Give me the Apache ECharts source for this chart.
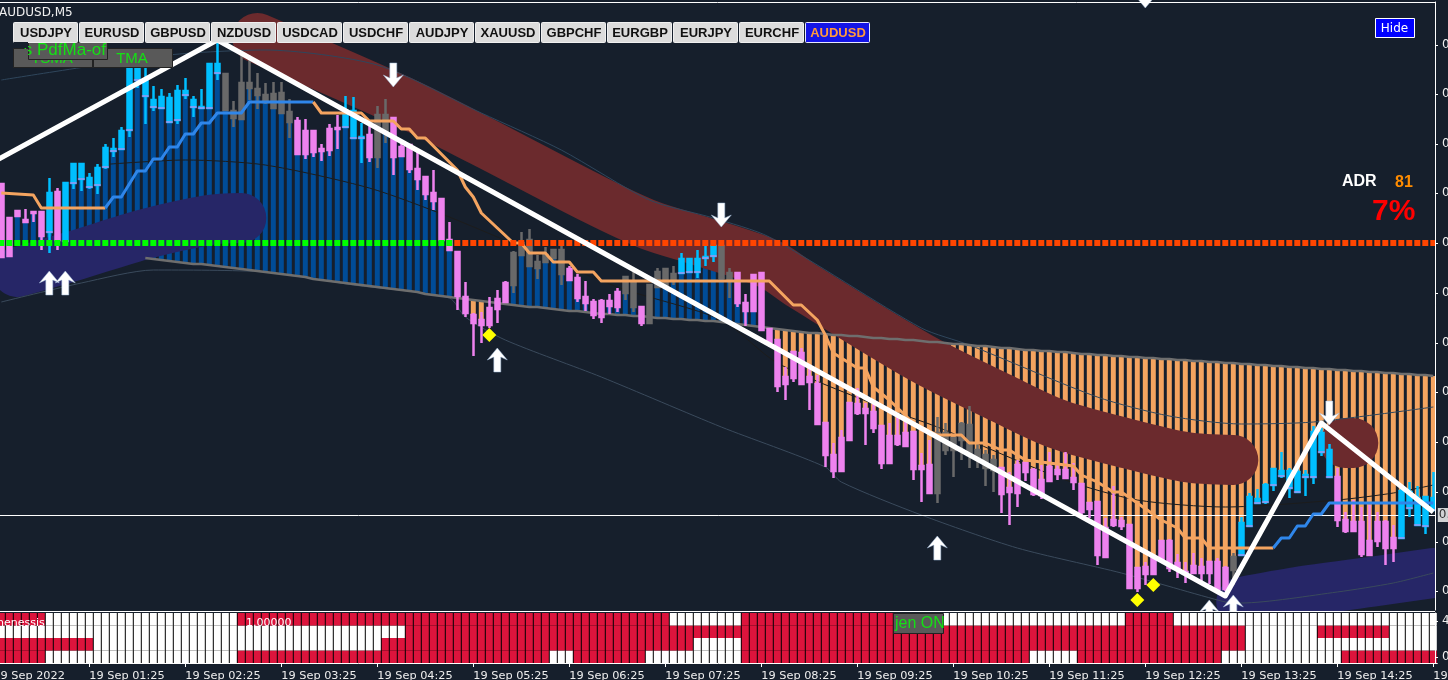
<!DOCTYPE html>
<html><head><meta charset="utf-8">
<style>html,body{margin:0;padding:0;background:#161f2c;overflow:hidden}#c{width:1448px;height:680px}</style>
<script src="https://cdn.jsdelivr.net/npm/echarts@6/dist/echarts.min.js"></script>
</head><body><div id="c"></div>
<script>
// prices are stored in points above the bottom of the visible price range (0.66630)
const bodyHigh=[426,392,399,390,398,398,417,418,427,446,
446,432,442,462,461,479,542,542,530,510,
513,512,519,519,510,503,546,546,536,499,
527,527,521,515,516,517,498,489,479,479,
461,481,482,499,499,473,475,495,495,492,
463,465,441,433,417,411,370,358,313,295,
290,302,311,327,357,367,370,348,355,360,
360,341,332,313,308,309,309,318,333,328,
303,325,338,341,336,351,351,351,353,364,
364,337,337,307,335,337,281,270,233,258,
257,233,226,187,155,172,207,206,201,198,
184,174,174,177,178,144,145,177,177,172,
186,185,160,155,150,142,122,145,147,140,
130,143,140,140,132,126,107,108,82,90,
89,85,42,43,52,69,69,47,38,44,
43,48,48,42,53,87,113,111,125,141,
139,139,138,135,178,177,160,133,90,88,
88,69,88,88,72,119,118,112,113,112];
const bodyLow=[353,354,394,388,397,374,378,370,369,427,
431,423,425,443,459,461,480,530,514,503,
502,488,490,515,503,502,502,537,500,492,
491,522,515,508,502,497,488,456,456,458,
459,460,481,483,472,472,453,453,477,453,
454,441,431,416,409,370,360,314,297,287,
285,285,301,308,325,355,344,342,348,352,
336,330,312,307,295,293,304,303,317,303,
287,287,323,325,330,337,338,338,352,354,
332,330,307,299,299,280,268,224,226,232,
226,228,186,155,139,139,170,197,197,182,
147,147,166,164,141,141,117,117,160,160,
170,155,153,142,140,116,118,117,138,116,
115,129,136,132,128,98,101,55,53,85,
84,22,22,36,36,51,42,42,37,37,
37,37,21,21,40,55,84,107,108,125,
134,122,118,133,133,158,133,90,79,79,
56,55,69,62,62,72,102,85,84,100];
const wickHigh=[426,392,399,401,398,399,432,422,427,446,
446,437,446,466,472,483,542,542,542,524,
521,517,525,532,514,521,547,567,536,509,
555,555,537,527,528,528,511,493,491,479,
466,486,495,514,513,487,485,504,511,492,
470,465,458,433,440,411,388,358,328,297,
298,313,320,329,359,378,381,355,363,361,
364,344,336,329,311,311,316,322,333,338,
303,325,342,341,344,357,351,360,364,364,
364,342,337,316,335,337,281,270,243,258,
262,243,235,187,167,180,207,222,207,207,
184,187,193,193,178,157,170,193,187,172,
188,204,168,160,155,143,138,150,148,142,
145,158,147,158,147,126,107,108,92,124,
93,85,42,48,52,69,71,56,48,57,
52,48,52,44,57,93,117,121,127,141,
158,142,142,140,184,182,166,142,98,110,
103,105,98,90,85,122,128,124,114,138];
const wickLow=[353,354,394,388,388,360,357,360,369,421,
419,421,416,441,453,460,473,522,486,499,
502,487,486,511,493,502,502,530,500,483,
491,510,501,506,502,497,472,456,451,453,
449,454,461,483,471,447,448,442,467,435,
454,437,420,410,400,370,360,300,293,254,
267,282,287,308,317,355,344,331,348,352,
325,330,308,299,291,287,296,298,310,298,
284,287,323,325,325,337,338,332,344,348,
332,312,303,284,299,280,263,218,210,228,
226,200,186,143,132,139,170,195,165,177,
141,147,164,163,130,108,117,107,155,133,
150,142,142,124,118,97,85,103,129,114,
111,129,130,132,120,95,92,45,53,83,
80,22,18,25,36,51,38,32,27,37,
27,26,21,19,25,55,83,106,106,119,
132,112,118,114,126,154,133,83,77,79,
53,54,63,45,48,72,93,84,76,100];
// candle tone runs: p pink, b blue, g grey
const toneRuns=[['p',6],['b',1],['p',1],['b',20],['g',9],['p',6],['b',3],['p',1],['g',2],['p',15],['g',7],['p',7],['g',2],['p',1],['g',4],['b',5],['g',2],['p',25],['g',8],['p',29],['g',1],['b',12],['p',8],['b',5]];
// histogram runs: n none, b blue, o orange
const histRuns=[['n',2],['b',55],['n',2],['o',2],['n',3],['b',31],['n',1],['o',84]];
const cloudLine=[368,367,366,365,364,363,362,361,360,359,
358,357,356,355,354,353,352,352,352,351,
350,349,348,347,346,346,345,344,343,342,
341,340,339,338,337,336,335,334,333,331,
330,329,328,327,326,325,324,323,322,321,
320,319,318,316,315,314,313,312,311,310,
309,308,307,306,305,304,303,303,302,301,
300,299,299,298,297,296,296,295,295,294,
294,293,292,292,291,291,290,290,289,289,
288,287,286,285,284,283,282,281,280,279,
278,277,277,276,275,275,274,274,273,272,
272,271,271,270,270,269,268,268,267,266,
266,265,264,264,263,262,262,261,260,260,
259,259,258,258,257,256,256,255,255,254,
254,253,253,252,252,251,251,250,250,249,
249,248,248,247,247,246,246,245,245,244,
244,243,243,242,242,241,241,240,240,239,
239,238,238,237,237,236,236,235,235,234];
// [category index, price points]
const brownBand=[[33,572],[51,509],[61,469],[75,411],[82,385],[88,370],[97,346],[101,325],[116,252],[126,212],[133,186],[141,168],[149,153],[155,150]];
const brownBlob=[[169,167],[170,167]];
const purpleBandA=[[3,338],[10,354],[19,376],[27,390],[31,392]];
const purpleBandB=[[156,8],[163,18],[173,29],[180,37]];
const upperThin=[[1,530],[22,555],[34,560],[48,545],[61,497],[71,460],[82,410],[90,392],[97,373],[116,282],[122,265],[138,213],[147,194],[156,186],[165,188],[180,203]];
const lowerThin=[[1,308],[11,327],[20,340],[34,338],[45,325],[57,312],[59,293],[64,270],[76,233],[91,183],[104,143],[106,128],[116,95],[128,62],[141,37],[154,8],[156,7],[168,18],[175,27],[180,37]];
const midThin=[[13,445],[24,450],[34,445],[47,422],[57,393],[78,323],[91,290],[98,247],[111,203],[118,183],[134,130],[143,110],[154,103],[168,110],[175,117],[180,125]];
const orangeStepA=[[1,417],[5,415],[6,402],[14,402]];
const blueStepA=[[14,402],[15,413],[16,413],[18,439],[19,439],[20,451],[21,451],[22,463],[23,463],[24,476],[25,476],[26,487],[27,487],[28,497],[31,497],[32,508],[40,508]];
const orangeStepB=[[40,508],[41,497],[46,497],[47,489],[50,489],[51,481],[52,481],[53,472],[54,472],[58,440],[59,423],[60,413],[61,397],[65,367],[66,367],[67,357],[69,357],[70,348],[72,348],[73,338],[75,338],[76,329],[97,329],[100,305],[101,305],[103,290],[104,275],[105,257],[108,242],[109,242],[110,223],[112,210],[115,187],[118,175],[121,175],[122,167],[124,167],[126,160],[127,160],[129,150],[135,144],[136,135],[138,128],[140,118],[141,118],[143,107],[146,90],[148,82],[149,72],[151,72],[152,62],[160,62]];
const blueStepB=[[160,62],[161,72],[162,72],[163,84],[164,84],[165,96],[166,96],[167,107],[180,107]];
const zigzag=[[0,448],[28,570],[154,14],[166,187],[180,98]];
const levelPrice=367, lastPrice=95, levelSwitch=58;
const upArrows=[[7,327],[9,327],[63,250],[118,62],[152,-2],[155,3]];
const downArrows=[[50,535],[91,395],[167,197],[144,614]];
const diamonds=[[62,275],[143,10],[145,25]];
const rowA=[['r',7],['w',24],['r',54],['w',9],['r',25],['w',23],['r',6],['w',33]];
const rowB=[['w',52],['r',105],['w',9],['r',9],['w',6]];
const rowC=[['r',13],['w',36],['r',39],['w',6],['r',63],['w',24]];
const rowD=[['r',7],['w',24],['r',39],['w',3],['r',9],['w',12],['r',36],['w',6],['r',18],['w',15],['r',12]];
const yTicks=[565,516,466,417,367,317,267,218,168,118,68,19];
const yTickLabels=['0.67200','0.67150','0.67100','0.67050','0.67000','0.66950','0.66900','0.66850','0.66800','0.66750','0.66700','0.66650'];
const lastPriceLabel='0.66725';
const panelTicks=[0.48,3.36], panelTickLabels=['0','4'];
const symbolButtons=['USDJPY','EURUSD','GBPUSD','NZDUSD','USDCAD','USDCHF','AUDJPY','XAUUSD','GBPCHF','EURGBP','EURJPY','EURCHF','AUDUSD'];

const BG='#161f2c';
const expand=r=>r.flatMap(([c,n])=>Array(n).fill(c));
const tones=expand(toneRuns), hist=expand(histRuns);
const N=bodyHigh.length+1;
const categories=[];
for(let i=0;i<N;i++){const t=25+i*5;const h=String(Math.floor(t/60)).padStart(2,'0');const m=String(t%60).padStart(2,'0');categories.push(i===0?'19 Sep 2022':'19 Sep '+h+':'+m);}
const toneColor={p:'#ee82ee',b:'#00bfff',g:'#696969'};
const candleData=[{value:['-','-','-','-']}].concat(bodyHigh.map((v,k)=>{const c=toneColor[tones[k]];
  return {value:[bodyLow[k],v,wickLow[k],wickHigh[k]],itemStyle:{color:c,color0:c,borderColor:c,borderColor0:c,borderColorDoji:c}};}));
const closeTicks=[];
bodyLow.forEach((v,k)=>{if(tones[k]==='b')closeTicks.push([k+1,v]);});
const histBase=[0],histSpan=[0];
for(let k=0;k<N-1;k++){
  let lo=0,hi=0,col='#004c97';
  if(hist[k]==='b'){lo=cloudLine[k];hi=bodyLow[k];}
  if(hist[k]==='o'){hi=cloudLine[k];lo=bodyHigh[k];col='#f4a460';}
  if(hi>lo){histBase.push(lo);histSpan.push({value:hi-lo,itemStyle:{color:col}});}else{histBase.push(0);histSpan.push(0);}
}
const thin=(name,data,color,width,z)=>({name,type:'line',data,symbol:'none',z,silent:true,smooth:0.25,lineStyle:{color,width},xAxisIndex:0,yAxisIndex:0});
const band=(name,data,color)=>({name,type:'line',data,symbol:'none',z:4,silent:true,smooth:0.3,lineStyle:{color,width:50,cap:'round',join:'round'},xAxisIndex:0,yAxisIndex:0});
const step=(name,data,color)=>({name,type:'line',data,symbol:'none',z:8,silent:true,lineStyle:{color,width:3,join:'round'},xAxisIndex:0,yAxisIndex:0});
const rowColor={r:'#dc143c',w:'#ffffff'};
const rowSeries=(name,runs)=>({name,type:'bar',stack:'rows',barWidth:7,z:35,silent:true,xAxisIndex:1,yAxisIndex:1,
  data:expand(runs).map(c=>({value:1,itemStyle:{color:rowColor[c]}}))});
const levelData=c=>categories.map((_,i)=>(i>0&&(c==='g'?i<levelSwitch:i>=levelSwitch))?levelPrice:'-');
const arrowPath='path://M10 0 L20 12 L13.5 9 L13.5 24 L6.5 24 L6.5 9 L0 12 Z';
const intervalFn=i=>i%12===0;

const buttons=[];
symbolButtons.forEach((s,n)=>{const last=s==='AUDUSD';const x=13+66*n;
  buttons.push({type:'rect',z:50,shape:{x:x+0.5,y:22.5,width:64,height:20,r:1},style:{fill:last?'#1414e6':'#dcdcdc',stroke:last?'#e8e8ff':'#f0f0f0',lineWidth:1}});
  buttons.push({type:'text',z:51,style:{text:s,x:x+33,y:33,textAlign:'center',textVerticalAlign:'middle',fill:last?'#ff9a3c':'#101010',font:'bold 13px "Liberation Sans"'}});
});
const greyBox=(x,y,w,h,z)=>({type:'rect',z:z||50,shape:{x:x+.5,y:y+.5,width:w,height:h},style:{fill:'#595959',stroke:'#222',lineWidth:1}});
const txt=(text,x,y,fill,font,align,z)=>({type:'text',z:z||52,style:{text,x,y,fill,font,textAlign:align||'left',textVerticalAlign:'middle'}});
const chrome=[
  {type:'rect',z:30,shape:{x:0,y:611,width:1448,height:69},style:{fill:BG}},
  {type:'rect',z:30,shape:{x:1436,y:0,width:12,height:680},style:{fill:BG}},
  {type:'rect',z:31,shape:{x:0,y:613,width:1435,height:50},style:{fill:'#000'}},
  {type:'line',z:41,shape:{x1:0,y1:2.5,x2:1435,y2:2.5},style:{stroke:'#fff',lineWidth:1}},
  {type:'line',z:41,shape:{x1:0,y1:611.5,x2:1435,y2:611.5},style:{stroke:'#fff',lineWidth:1}},
  ...buttons,
  greyBox(13,48,79,19,46),greyBox(93,48,79,19,46),
  txt('TSMA',52,59,'#14e014','15px "Liberation Sans"','center',47),
  txt('TMA',132,59,'#14e014','15px "Liberation Sans"','center',47),
  greyBox(28,42,79,17,48),
  txt('s PdfMa-of',106,50,'#14e014','17px "Liberation Sans"','right',53),
  {type:'rect',z:54,shape:{x:14,y:42,width:14,height:6},style:{fill:BG}},
  {type:'rect',z:54,shape:{x:14,y:49,width:14,height:10},style:{fill:'#595959'}},
  greyBox(893,613,50,20),
  txt('jen ON',895,623.5,'#14e014','16px "Liberation Sans"'),
  txt('AUDUSD,M5',-1,13,'#f0f0f0','12px "DejaVu Sans"'),
  txt('henessis',-3,623,'#ffffff','11px "DejaVu Sans"','left',45),
  txt('1.00000',246,623,'#ffffff','11px "DejaVu Sans"','left',45),
  {type:'rect',z:50,shape:{x:1375.5,y:18.5,width:39,height:19},style:{fill:'#0000ff',stroke:'#fff',lineWidth:1}},
  txt('Hide',1394.5,28.5,'#fff','12px "DejaVu Sans"','center'),
  txt('ADR',1342,182,'#fff','bold 16px "Liberation Sans"'),
  txt('81',1395,183,'#ff8c00','bold 16px "Liberation Sans"'),
  txt('7%',1372,212,'#ff0000','bold 30px "Liberation Sans"')
];

const option={
  backgroundColor:BG,animation:false,
  graphic:{elements:chrome},
  grid:[
    {left:-10.7,top:2,width:1448,height:608,outerBoundsMode:'none',containLabel:false},
    {left:-10.7,top:613,width:1448,height:50,outerBoundsMode:'none',containLabel:false}
  ],
  xAxis:[
    {gridIndex:0,type:'category',data:categories,boundaryGap:true,z:40,axisLine:{show:false},axisTick:{show:false},axisLabel:{show:false},splitLine:{show:false}},
    {gridIndex:1,type:'category',data:categories,boundaryGap:true,z:40,
     axisLine:{show:true,lineStyle:{color:'#fff',width:1}},
     axisTick:{show:true,alignWithLabel:true,interval:intervalFn,length:4,lineStyle:{color:'#fff'}},
     axisLabel:{show:true,interval:intervalFn,align:'left',margin:8,color:'#eeeeee',fontSize:11.3,fontFamily:'DejaVu Sans',showMinLabel:true,showMaxLabel:true,hideOverlap:false},
     splitLine:{show:false}}
  ],
  yAxis:[
    {gridIndex:0,type:'value',position:'right',offset:-2.3,min:0,max:608,z:40,scale:false,
     axisLine:{show:true,onZero:false,lineStyle:{color:'#fff',width:1}},
     axisTick:{show:true,length:3,customValues:yTicks,lineStyle:{color:'#fff'}},
     axisLabel:{show:true,margin:7,color:'#eeeeee',fontSize:12,fontFamily:'DejaVu Sans',align:'left',customValues:yTicks,formatter:v=>yTickLabels[yTicks.indexOf(v)]},
     splitLine:{show:false}},
    {gridIndex:1,type:'value',position:'right',offset:-2.3,min:0,max:4,z:40,
     axisLine:{show:true,onZero:false,lineStyle:{color:'#fff',width:1}},
     axisTick:{show:true,length:3,customValues:panelTicks,lineStyle:{color:'#fff'}},
     axisLabel:{show:true,margin:7,color:'#eeeeee',fontSize:12,fontFamily:'DejaVu Sans',align:'left',customValues:panelTicks,formatter:v=>panelTickLabels[panelTicks.indexOf(v)]},
     splitLine:{show:false}}
  ],
  series:[
    {name:'histBase',type:'bar',stack:'hist',barWidth:5,z:3,silent:true,xAxisIndex:0,yAxisIndex:0,data:histBase,itemStyle:{color:'transparent'}},
    {name:'hist',type:'bar',stack:'hist',barWidth:5,z:3,silent:true,xAxisIndex:0,yAxisIndex:0,data:histSpan},
    band('brownBand',brownBand,'#6b2a2d'),
    band('brownBlob',brownBlob,'#6b2a2d'),
    band('purpleBandA',purpleBandA,'#262667'),
    band('purpleBandB',purpleBandB,'#262667'),
    thin('upperThin',upperThin,'#2f465c',1,5),
    thin('lowerThin',lowerThin,'#3a4a5c',1,5),
    thin('midThin',midThin,'#1c1c1c',1,5),
    {name:'cloud',type:'line',data:[null].concat(cloudLine.map((v,k)=>k<18?null:v)),symbol:'none',z:5,silent:true,lineStyle:{color:'#6e6e6e',width:2.5},xAxisIndex:0,yAxisIndex:0},
    {name:'lastLine',type:'line',data:[],xAxisIndex:0,yAxisIndex:0,z:6,silent:true,
     markLine:{z:6,silent:true,symbol:'none',animation:false,lineStyle:{color:'#ffffff',width:1,type:'solid'},label:{show:false},data:[{yAxis:lastPrice}]}},
    {name:'candles',type:'candlestick',data:candleData,barWidth:5,z:7,silent:true,xAxisIndex:0,yAxisIndex:0,itemStyle:{borderWidth:2.5}},
    {name:'closeTicks',type:'scatter',data:closeTicks,symbol:'rect',symbolSize:[7,1],z:7,silent:true,itemStyle:{color:'#ee82ee',opacity:1},xAxisIndex:0,yAxisIndex:0},
    step('orangeStepA',orangeStepA,'#f4a460'),
    step('blueStepA',blueStepA,'#2f86ea'),
    step('orangeStepB',orangeStepB,'#f4a460'),
    step('blueStepB',blueStepB,'#2f86ea'),
    {name:'levelUp',type:'scatter',data:levelData('g'),symbol:'rect',symbolSize:[6,6],z:8,silent:true,itemStyle:{color:'#00ff00',opacity:1},xAxisIndex:0,yAxisIndex:0},
    {name:'levelDown',type:'scatter',data:levelData('o'),symbol:'rect',symbolSize:[6,6],z:8,silent:true,itemStyle:{color:'#ff4500',opacity:1},xAxisIndex:0,yAxisIndex:0},
    {name:'zigzag',type:'line',data:zigzag,symbol:'none',z:9,silent:true,lineStyle:{color:'#ffffff',width:5,join:'round'},xAxisIndex:0,yAxisIndex:0},
    {name:'upArrows',type:'scatter',data:upArrows,clip:false,symbol:arrowPath,symbolSize:[20,24],z:11,silent:true,itemStyle:{color:'#fff',borderColor:'#9fb8d8',borderWidth:0.5,opacity:1},xAxisIndex:0,yAxisIndex:0},
    {name:'downArrows',type:'scatter',data:downArrows,clip:false,symbol:arrowPath,symbolRotate:180,symbolSize:[20,24],z:11,silent:true,itemStyle:{color:'#fff',borderColor:'#9fb8d8',borderWidth:0.5,opacity:1},xAxisIndex:0,yAxisIndex:0},
    {name:'diamonds',type:'scatter',data:diamonds,clip:false,symbol:'diamond',symbolSize:14,z:11,silent:true,itemStyle:{color:'#ffff00',opacity:1},xAxisIndex:0,yAxisIndex:0},
    {name:'lastTag',type:'scatter',data:[[180,lastPrice]],clip:false,symbol:'rect',symbolSize:1,xAxisIndex:0,yAxisIndex:0,z:45,silent:true,itemStyle:{color:'transparent'},
     label:{show:true,position:'right',distance:4,formatter:lastPriceLabel,color:'#000',backgroundColor:'#fff',fontSize:12,fontFamily:'DejaVu Sans',padding:[1,3,1,1]}},
    rowSeries('rowD',rowD),rowSeries('rowC',rowC),rowSeries('rowB',rowB),rowSeries('rowA',rowA)
  ]
};
const chart=echarts.init(document.getElementById('c'),null,{renderer:'canvas'});
chart.setOption(option);
</script></body></html>
